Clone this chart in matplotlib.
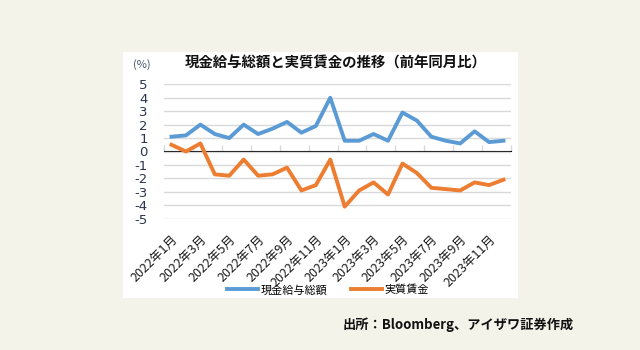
import matplotlib
matplotlib.use("Agg")
import matplotlib.pyplot as plt
import numpy as np
from matplotlib.patches import Rectangle

plt.rcParams["font.family"] = ["Noto Sans CJK JP", "DejaVu Sans"]

# 2022年1月 - 2023年12月
months = [f"{y}年{m}月" for y in (2022, 2023) for m in range(1, 13)]
nominal = [1.1, 1.2, 2.0, 1.3, 1.0, 2.0, 1.3, 1.7, 2.2, 1.4, 1.9, 4.0,
           0.8, 0.8, 1.3, 0.8, 2.9, 2.3, 1.1, 0.8, 0.6, 1.5, 0.7, 0.8]
real = [0.5, 0.0, 0.6, -1.7, -1.8, -0.6, -1.8, -1.7, -1.2, -2.9, -2.5, -0.6,
        -4.1, -2.9, -2.3, -3.2, -0.9, -1.6, -2.7, -2.8, -2.9, -2.3, -2.5, -2.1]
yticks = [5, 4, 3, 2, 1, 0, -1, -2, -3, -4, -5]

BG = "#f4f3ea"
BLUE = "#5b9bd5"
ORANGE = "#ed7d31"
NAVY = "#2a3550"

fig = plt.figure(figsize=(6.4, 3.5), dpi=100, facecolor=BG)
# white chart panel
fig.patches.append(Rectangle((123 / 640, (350 - 298) / 350), 395 / 640, 246 / 350,
                             transform=fig.transFigure, facecolor="white", edgecolor="none", zorder=-10))

ax = fig.add_axes([164.3 / 640, 131.3 / 350, 346.4 / 640, 134.4 / 350])
ax.set_facecolor("none")

x = np.arange(1, len(months) + 1)
ax.plot(x, nominal, color=BLUE, lw=2.8, label="現金給与総額", zorder=3)
ax.plot(x, real, color=ORANGE, lw=2.8, label="実質賃金", zorder=3)

ax.set_xlim(0.5, len(months) + 0.5)
ax.set_ylim(-5, 5)
ax.set_yticks(yticks)
ax.set_yticklabels([str(v) for v in yticks], fontsize=9.5, color=NAVY, family="DejaVu Sans")
ax.yaxis.grid(True, color="#d9d9d9", lw=1)
ax.set_axisbelow(True)
ax.tick_params(axis="y", length=0, pad=12)
for s in ax.spines.values():
    s.set_visible(False)

ax.set_xticks(x[::2])
ax.set_xticklabels(months[::2], rotation=45, ha="right", rotation_mode="anchor",
                   fontsize=9, color="#1a1a1a")
ax.tick_params(axis="x", length=0, pad=10)

# category axis at zero with ticks between groups
sec = ax.secondary_xaxis(0.5)
sec.spines["bottom"].set_color("#d9d9d9")
sec.set_xticks(np.arange(0.5, len(months) + 1, 2))
sec.set_xticklabels([])
sec.tick_params(axis="x", length=4, color="#d9d9d9", width=1)

fig.text(133 / 640, 1 - 65 / 350, "(%)", fontsize=8, color="#44546a", ha="left", va="center")
fig.text(336 / 640, 1 - 63 / 350, "現金給与総額と実質賃金の推移（前年同月比）", fontsize=10.4,
         fontweight="bold", ha="center", va="center", color="#111111")

fig.legend(loc="center", bbox_to_anchor=(328 / 640, 1 - 290 / 350), ncol=2, frameon=False,
           fontsize=8, handlelength=2.8, columnspacing=2.2, handletextpad=0.2)

fig.text(343 / 640, 1 - 325 / 350, "出所：Bloomberg、アイザワ証券作成", fontsize=9.5,
         fontweight="bold", ha="left", va="center", color="#111111")

fig.savefig("out.png", dpi=100, facecolor=BG)
